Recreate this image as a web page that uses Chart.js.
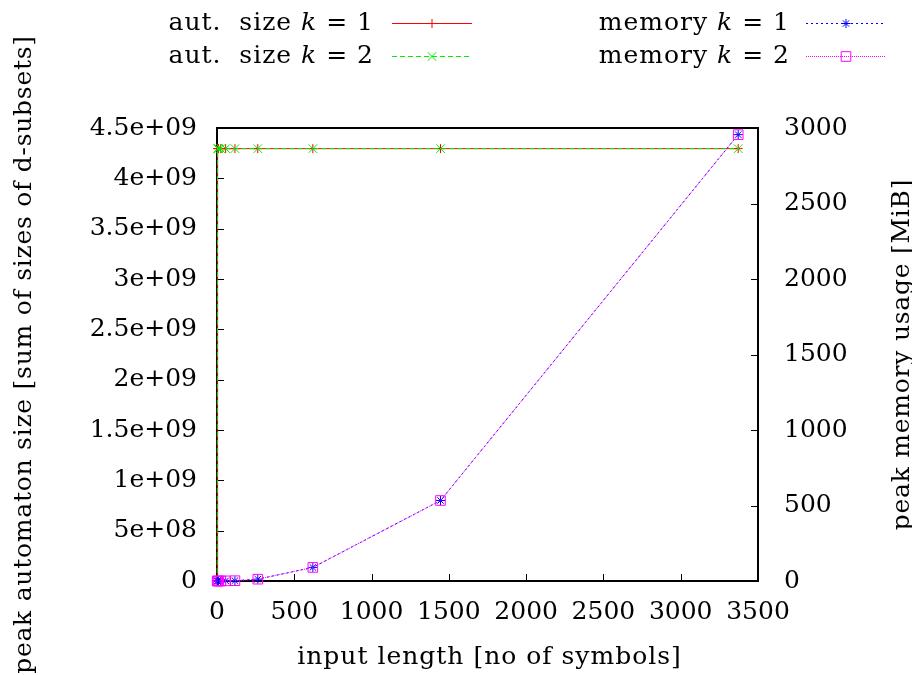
<!DOCTYPE html>
<html>
<head>
<meta charset="utf-8">
<script src="https://cdn.jsdelivr.net/npm/chart.js@4/dist/chart.umd.min.js"></script>
<style>
  html, body { margin: 0; padding: 0; background: #fff; }
  canvas { display: block; }
</style>
</head>
<body>
<canvas id="c" width="912" height="675"></canvas>
<script>
// Input lengths (number of symbols)
const inputLength = [1, 4, 10, 24, 56, 116, 264, 620, 1446, 3372];
// Peak automaton size (sum of sizes of d-subsets)
const autSizeK1 = [0, 4294967295, 4294967295, 4294967295, 4294967295, 4294967295, 4294967295, 4294967295, 4294967295, 4294967295];
const autSizeK2 = [0, 4294967295, 4294967295, 4294967295, 4294967295, 4294967295, 4294967295, 4294967295, 4294967295, 4294967295];
// Peak memory usage in MiB
const memoryK1 = [0, 0, 0, 0, 1, 2, 12, 90, 533, 2956];
const memoryK2 = [0, 0, 0, 0, 1, 2, 12, 90, 533, 2956];
// Axis ticks
const xTicks = [0, 500, 1000, 1500, 2000, 2500, 3000, 3500];
const yTicks = [0, 5e8, 1e9, 1.5e9, 2e9, 2.5e9, 3e9, 3.5e9, 4e9, 4.5e9];
const y2Ticks = [0, 500, 1000, 1500, 2000, 2500, 3000];

const FONT = 'DejaVu Serif';
const FS = 25;

const pts = (ys) => inputLength.map((x, i) => ({ x, y: ys[i] }));

function sci(v) {
  if (v === 0) return '0';
  const e = Math.floor(Math.log10(v) + 1e-9);
  const m = +(v / Math.pow(10, e)).toFixed(2);
  return m + 'e+' + String(e).padStart(2, '0');
}

const series = [
  { label: ['aut.  size ', 'k', ' = 1'], data: pts(autSizeK1), yAxisID: 'y', color: '#ff0000', dash: [], style: 'cross', r: 4.5, order: 4 },
  { label: ['aut.  size ', 'k', ' = 2'], data: pts(autSizeK2), yAxisID: 'y', color: '#00ee00', dash: [5, 3], style: 'crossRot', r: 6, order: 3 },
  { label: ['memory ', 'k', ' = 1'], data: pts(memoryK1), yAxisID: 'y1', color: '#0000ff', dash: [2, 3], style: 'star', r: 4.5, order: 2 },
  { label: ['memory ', 'k', ' = 2'], data: pts(memoryK2), yAxisID: 'y1', color: '#ff00ff', dash: [1, 1], style: 'rect', r: 6.8, order: 1 }
];

const datasets = series.map(s => ({
  label: s.label.join(''),
  parts: s.label,
  data: s.data,
  yAxisID: s.yAxisID,
  borderColor: s.color,
  backgroundColor: 'rgba(0,0,0,0)',
  borderWidth: 1,
  borderDash: s.dash,
  pointStyle: s.style,
  pointRadius: s.r,
  pointBorderColor: s.color,
  pointBackgroundColor: 'rgba(0,0,0,0)',
  pointBorderWidth: 1,
  tension: 0,
  clip: false,
  order: s.order
}));

// Frame and inward tick marks, drawn beneath the data
const frame = {
  id: 'frame',
  beforeDatasetsDraw(chart) {
    const { ctx, chartArea: a, scales } = chart;
    ctx.save();
    ctx.strokeStyle = '#000';
    ctx.lineWidth = 1;
    ctx.beginPath();
    xTicks.forEach(v => { const p = Math.round(scales.x.getPixelForValue(v)) + 0.5; ctx.moveTo(p, a.bottom); ctx.lineTo(p, a.bottom - 7); });
    yTicks.forEach(v => { const p = Math.round(scales.y.getPixelForValue(v)) + 0.5; ctx.moveTo(a.left, p); ctx.lineTo(a.left + 7, p); });
    y2Ticks.forEach(v => { const p = Math.round(scales.y1.getPixelForValue(v)) + 0.5; ctx.moveTo(a.right, p); ctx.lineTo(a.right - 7, p); });
    ctx.stroke();
    ctx.lineWidth = 2;
    ctx.strokeRect(a.left, a.top, a.right - a.left, a.bottom - a.top);
    ctx.restore();
  }
};

// Draws text made of [plain, italic, plain] parts, right-aligned at xr
function drawParts(ctx, parts, xr, y) {
  const fonts = [`${FS}px "${FONT}"`, `italic ${FS}px "${FONT}"`, `${FS}px "${FONT}"`];
  ctx.letterSpacing = '1px';
  const widths = parts.map((t, i) => { ctx.font = fonts[i]; return ctx.measureText(t).width; });
  let x = xr - widths.reduce((a, b) => a + b, 0);
  parts.forEach((t, i) => { ctx.font = fonts[i]; ctx.fillText(t, x, y); x += widths[i]; });
  ctx.letterSpacing = '0px';
}

// Legend in two columns plus the three axis titles
const annotations = {
  id: 'annotations',
  afterDraw(chart) {
    const { ctx, chartArea: a } = chart;
    ctx.save();
    ctx.fillStyle = '#000';
    ctx.textBaseline = 'middle';
    ctx.textAlign = 'left';
    const slots = [
      { tx: 374, x1: 392, x2: 472, y: 23 },
      { tx: 374, x1: 392, x2: 472, y: 56 },
      { tx: 790, x1: 806, x2: 886, y: 23 },
      { tx: 790, x1: 806, x2: 886, y: 56 }
    ];
    chart.data.datasets.forEach((ds, i) => {
      const s = slots[i];
      ctx.fillStyle = '#000';
      drawParts(ctx, ds.parts, s.tx, s.y);
      ctx.save();
      ctx.strokeStyle = ds.borderColor;
      ctx.lineWidth = 1;
      ctx.setLineDash(ds.borderDash);
      ctx.beginPath();
      ctx.moveTo(s.x1, s.y + 0.5);
      ctx.lineTo(s.x2, s.y + 0.5);
      ctx.stroke();
      ctx.setLineDash([]);
      ctx.fillStyle = 'rgba(0,0,0,0)';
      Chart.helpers.drawPoint(ctx, { pointStyle: ds.pointStyle, radius: ds.pointRadius, borderWidth: 1, rotation: 0 }, (s.x1 + s.x2) / 2, s.y + 0.5);
      ctx.restore();
    });

    ctx.font = `${FS}px "${FONT}"`;
    ctx.textAlign = 'center';
    ctx.fillStyle = '#000';
    const cy = (a.top + a.bottom) / 2;
    ctx.save();
    ctx.letterSpacing = '0.75px';
    ctx.translate(24, cy);
    ctx.rotate(-Math.PI / 2);
    ctx.fillText('peak automaton size [sum of sizes of d-subsets]', 0, 0);
    ctx.restore();
    ctx.save();
    ctx.letterSpacing = '0.75px';
    ctx.translate(902, cy);
    ctx.rotate(-Math.PI / 2);
    ctx.fillText('peak memory usage [MiB]', 0, 0);
    ctx.restore();
    ctx.save();
    ctx.letterSpacing = '1px';
    ctx.fillText('input length [no of symbols]', (a.left + a.right) / 2 + 2, 657);
    ctx.restore();
    ctx.restore();
  }
};

const tickFont = { family: FONT, size: FS };

new Chart(document.getElementById('c'), {
  type: 'line',
  data: { datasets },
  options: {
    responsive: false,
    animation: false,
    layout: { padding: { top: 128, left: 0, right: 0, bottom: 0 } },
    plugins: { legend: { display: false }, tooltip: { enabled: false } },
    scales: {
      x: {
        type: 'linear', min: 0, max: 3500,
        afterBuildTicks: s => { s.ticks = xTicks.map(v => ({ value: v })); },
        afterFit: s => { s.height = 94; },
        grid: { display: false }, border: { display: false },
        ticks: { font: tickFont, color: '#000', padding: 8, maxRotation: 0, autoSkip: false, callback: v => String(v) }
      },
      y: {
        type: 'linear', position: 'left', min: 0, max: 4.5e9,
        afterBuildTicks: s => { s.ticks = yTicks.map(v => ({ value: v })); },
        afterFit: s => { s.width = 217; },
        grid: { display: false }, border: { display: false },
        ticks: { font: tickFont, color: '#000', padding: 12, autoSkip: false, callback: v => sci(v) }
      },
      y1: {
        type: 'linear', position: 'right', min: 0, max: 3000,
        afterBuildTicks: s => { s.ticks = y2Ticks.map(v => ({ value: v })); },
        afterFit: s => { s.width = 154; },
        grid: { display: false }, border: { display: false },
        ticks: { font: tickFont, color: '#000', padding: 18, autoSkip: false, callback: v => String(v) }
      }
    }
  },
  plugins: [frame, annotations]
});
</script>
</body>
</html>
